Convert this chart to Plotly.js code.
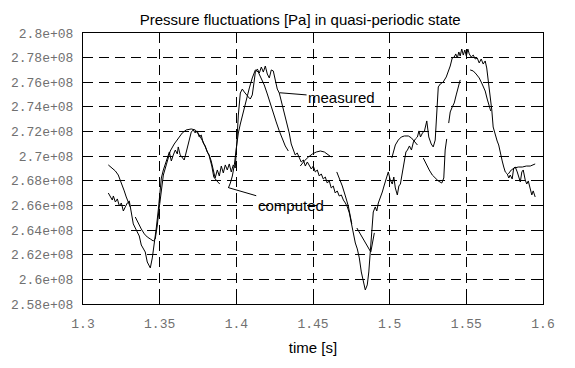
<!DOCTYPE html>
<html>
<head>
<meta charset="utf-8">
<script src="https://cdn.plot.ly/plotly-3.0.1.min.js"></script>
<style>html,body{margin:0;padding:0;background:#fff;}#chart{width:575px;height:368px;}</style>
</head>
<body>
<div id="chart"></div>
<script>
// measured pressure (noisy trace)
const timeMeasured = [
1.3165,1.3178,1.3191,1.3198,1.3211,1.3224,1.3237,1.3250,1.3263,1.3276,
1.3289,1.3302,1.3315,1.3328,1.3341,1.3354,1.3367,1.3380,1.3393,1.3406,
1.3419,1.3432,1.3439,1.3452,1.3465,1.3478,1.3491,1.3504,1.3511,1.3524,
1.3537,1.3550,1.3563,1.3576,1.3589,1.3602,1.3615,1.3621,1.3634,1.3647,
1.3660,1.3667,1.3680,1.3693,1.3706,1.3719,1.3732,1.3745,1.3758,1.3771,
1.3784,1.3797,1.3810,1.3823,1.3836,1.3849,1.3862,1.3876,1.3889,1.3902,
1.3915,1.3928,1.3941,1.3954,1.3967,1.3980,1.3993,1.4003,1.4013,1.4026,
1.4039,1.4052,1.4065,1.4078,1.4091,1.4104,1.4114,1.4124,1.4137,1.4150,
1.4163,1.4176,1.4189,1.4202,1.4215,1.4228,1.4241,1.4254,1.4267,1.4280,
1.4293,1.4306,1.4319,1.4332,1.4345,1.4358,1.4371,1.4384,1.4397,1.4410,
1.4423,1.4437,1.4450,1.4463,1.4476,1.4489,1.4502,1.4515,1.4528,1.4541,
1.4554,1.4567,1.4580,1.4593,1.4606,1.4619,1.4632,1.4645,1.4658,1.4671,
1.4685,1.4698,1.4711,1.4724,1.4737,1.4750,1.4763,1.4776,1.4789,1.4802,
1.4815,1.4828,1.4841,1.4854,1.4864,1.4874,1.4883,1.4893,1.4906,1.4916,
1.4926,1.4939,1.4952,1.4965,1.4978,1.4991,1.5004,1.5017,1.5027,1.5037,
1.5050,1.5060,1.5070,1.5083,1.5096,1.5106,1.5116,1.5129,1.5142,1.5155,
1.5168,1.5181,1.5191,1.5201,1.5214,1.5227,1.5242,1.5255,1.5271,1.5284,
1.5297,1.5307,1.5317,1.5330,1.5349,1.5369,1.5382,1.5395,1.5408,1.5421,
1.5431,1.5441,1.5451,1.5460,1.5470,1.5480,1.5490,1.5500,1.5510,1.5519,
1.5532,1.5545,1.5558,1.5571,1.5584,1.5597,1.5610,1.5623,1.5633,1.5643,
1.5656,1.5666,1.5675,1.5688,1.5701,1.5711,1.5721,1.5734,1.5744,1.5754,
1.5767,1.5777,1.5786,1.5799,1.5809,1.5819,1.5832,1.5842,1.5852,1.5862,
1.5871,1.5884,1.5894,1.5904,1.5917,1.5927,1.5936,1.5949];
const pressureMeasured = [
2.6701e8,2.6669e8,2.6644e8,2.6677e8,2.6628e8,2.6653e8,2.6596e8,2.6620e8,2.6555e8,2.6588e8,
2.6620e8,2.6636e8,2.6531e8,2.6450e8,2.6417e8,2.6385e8,2.6352e8,2.6279e8,2.6247e8,2.6222e8,
2.6141e8,2.6109e8,2.6093e8,2.6174e8,2.6287e8,2.6417e8,2.6563e8,2.6709e8,2.6823e8,2.6888e8,
2.6945e8,2.6985e8,2.7034e8,2.6961e8,2.7010e8,2.7050e8,2.7018e8,2.7075e8,2.7010e8,2.6993e8,
2.6969e8,2.7002e8,2.7058e8,2.7131e8,2.7196e8,2.7213e8,2.7188e8,2.7205e8,2.7156e8,2.7172e8,
2.7107e8,2.7083e8,2.7034e8,2.7010e8,2.6961e8,2.6888e8,2.6823e8,2.6888e8,2.6839e8,2.6920e8,
2.6864e8,2.6929e8,2.6888e8,2.6937e8,2.6872e8,2.6929e8,2.6904e8,2.7107e8,2.7334e8,2.7513e8,
2.7545e8,2.7521e8,2.7505e8,2.7481e8,2.7464e8,2.7497e8,2.7586e8,2.7683e8,2.7708e8,2.7675e8,
2.7724e8,2.7683e8,2.7732e8,2.7667e8,2.7635e8,2.7700e8,2.7692e8,2.7619e8,2.7545e8,2.7513e8,
2.7448e8,2.7399e8,2.7326e8,2.7261e8,2.7188e8,2.7099e8,2.7058e8,2.7010e8,2.7026e8,2.6985e8,
2.6953e8,2.6969e8,2.6920e8,2.6953e8,2.6929e8,2.6896e8,2.6920e8,2.6872e8,2.6888e8,2.6839e8,
2.6856e8,2.6815e8,2.6831e8,2.6782e8,2.6799e8,2.6742e8,2.6758e8,2.6701e8,2.6718e8,2.6677e8,
2.6685e8,2.6644e8,2.6620e8,2.6588e8,2.6539e8,2.6450e8,2.6352e8,2.6295e8,2.6247e8,2.6174e8,
2.6060e8,2.5971e8,2.5914e8,2.5955e8,2.6060e8,2.6231e8,2.6417e8,2.6547e8,2.6588e8,2.6555e8,
2.6620e8,2.6661e8,2.6709e8,2.6766e8,2.6831e8,2.6872e8,2.6807e8,2.6774e8,2.6831e8,2.6742e8,
2.6685e8,2.6758e8,2.6774e8,2.6872e8,2.6945e8,2.7034e8,2.7050e8,2.7083e8,2.7050e8,2.7115e8,
2.7140e8,2.7156e8,2.7205e8,2.7156e8,2.7188e8,2.7205e8,2.7286e8,2.7156e8,2.7099e8,2.7075e8,
2.7131e8,2.7399e8,2.7562e8,2.7586e8,2.7602e8,2.7643e8,2.7683e8,2.7732e8,2.7797e8,2.7805e8,
2.7830e8,2.7797e8,2.7846e8,2.7813e8,2.7870e8,2.7821e8,2.7862e8,2.7813e8,2.7870e8,2.7830e8,
2.7805e8,2.7821e8,2.7789e8,2.7797e8,2.7757e8,2.7789e8,2.7748e8,2.7773e8,2.7716e8,2.7619e8,
2.7505e8,2.7375e8,2.7237e8,2.7172e8,2.7123e8,2.7091e8,2.7026e8,2.6961e8,2.6912e8,2.6872e8,
2.6856e8,2.6823e8,2.6847e8,2.6815e8,2.6904e8,2.6912e8,2.6872e8,2.6831e8,2.6791e8,2.6872e8,
2.6888e8,2.6807e8,2.6774e8,2.6799e8,2.6742e8,2.6685e8,2.6718e8,2.6669e8];

// computed pressure (smooth trace, drawn in separate pieces)
const timeComputed = [
1.3165,1.3191,1.3211,1.3230,1.3243,1.3256,1.3269,1.3282,1.3295,1.3308,null,
1.3341,1.3361,1.3380,1.3400,1.3419,1.3439,1.3458,1.3471,1.3484,1.3497,
1.3511,1.3524,1.3543,1.3569,1.3595,1.3621,1.3647,1.3673,1.3706,1.3732,
1.3758,1.3784,1.3804,1.3823,1.3840,1.3853,1.3873,1.3892,null,
1.3948,1.3961,1.3974,1.3987,1.4000,1.4013,1.4026,1.4046,1.4065,1.4085,
1.4104,1.4124,1.4143,1.4163,1.4182,1.4202,1.4221,1.4241,1.4260,1.4280,
1.4300,1.4319,1.4339,null,
1.4417,1.4443,1.4470,1.4496,1.4522,1.4548,1.4574,1.4600,1.4619,null,
1.4655,1.4672,1.4691,1.4711,1.4730,1.4743,1.4753,null,
1.4786,1.4808,1.4834,1.4861,1.4877,1.4900,null,
1.5014,1.5024,1.5037,1.5056,1.5076,1.5096,1.5122,1.5142,1.5161,1.5181,null,
1.5219,1.5239,1.5258,1.5278,1.5297,1.5317,1.5340,1.5353,1.5362,1.5372,null,
1.5385,1.5395,1.5408,1.5421,1.5434,1.5447,1.5460,null,
1.5525,1.5545,1.5564,1.5584,1.5603,1.5623,1.5636,1.5649,1.5659,null,
1.5774,1.5793,1.5813,1.5839,1.5865,1.5891,1.5917,1.5949];
const pressureComputed = [
2.6929e8,2.6904e8,2.6880e8,2.6847e8,2.6807e8,2.6766e8,2.6718e8,2.6669e8,2.6628e8,2.6588e8,null,
2.6506e8,2.6450e8,2.6409e8,2.6369e8,2.6344e8,2.6328e8,2.6312e8,2.6328e8,2.6433e8,2.6580e8,
2.6742e8,2.6847e8,2.6929e8,2.7042e8,2.7099e8,2.7148e8,2.7188e8,2.7213e8,2.7221e8,2.7213e8,
2.7172e8,2.7115e8,2.7058e8,2.7002e8,2.6920e8,2.6831e8,2.6799e8,2.6774e8,null,
2.6742e8,2.6782e8,2.6839e8,2.6929e8,2.7067e8,2.7188e8,2.7261e8,2.7367e8,2.7464e8,2.7554e8,
2.7635e8,2.7700e8,2.7683e8,2.7635e8,2.7578e8,2.7505e8,2.7424e8,2.7343e8,2.7278e8,2.7205e8,
2.7140e8,2.7083e8,2.7042e8,null,
2.6920e8,2.6961e8,2.6993e8,2.7018e8,2.7034e8,2.7042e8,2.7034e8,2.7010e8,2.6993e8,null,
2.6872e8,2.6823e8,2.6758e8,2.6677e8,2.6596e8,2.6515e8,2.6450e8,null,
2.6417e8,2.6369e8,2.6312e8,2.6255e8,2.6222e8,2.6377e8,null,
2.6985e8,2.7042e8,2.7091e8,2.7131e8,2.7156e8,2.7164e8,2.7164e8,2.7148e8,2.7123e8,2.7091e8,null,
2.6985e8,2.6929e8,2.6888e8,2.6847e8,2.6823e8,2.6799e8,2.6782e8,2.6823e8,2.7050e8,2.7140e8,null,
2.7269e8,2.7359e8,2.7399e8,2.7432e8,2.7497e8,2.7562e8,2.7619e8,null,
2.7700e8,2.7692e8,2.7667e8,2.7635e8,2.7586e8,2.7529e8,2.7464e8,2.7399e8,2.7367e8,null,
2.6856e8,2.6888e8,2.6904e8,2.6912e8,2.6912e8,2.6920e8,2.6920e8,2.6937e8];

const xTickVals = [1.3,1.35,1.4,1.45,1.5,1.55,1.6];
const xTickLabels = ['1.3','1.35','1.4','1.45','1.5','1.55','1.6'];
const yTickVals = [2.58e8,2.60e8,2.62e8,2.64e8,2.66e8,2.68e8,2.70e8,2.72e8,2.74e8,2.76e8,2.78e8,2.80e8];
const yTickLabels = ['2.58e+08','2.6e+08','2.62e+08','2.64e+08','2.66e+08','2.68e+08','2.7e+08','2.72e+08','2.74e+08','2.76e+08','2.78e+08','2.8e+08'];

const sans = 'Liberation Sans, Arial, Helvetica, sans-serif';
const mono = 'Liberation Mono, Courier New, monospace';

const traces = [
  {x: timeMeasured, y: pressureMeasured, type: 'scatter', mode: 'lines', name: 'measured',
   line: {color: '#000', width: 1}, hoverinfo: 'skip'},
  {x: timeComputed, y: pressureComputed, type: 'scatter', mode: 'lines', name: 'computed',
   connectgaps: false, line: {color: '#000', width: 1}, hoverinfo: 'skip'}
];

const axisCommon = {
  ticks: 'inside', ticklen: 7, tickcolor: '#000', tickwidth: 1,
  showline: true, linecolor: '#000', linewidth: 1, mirror: 'ticks',
  showgrid: true, gridcolor: '#000', gridwidth: 1, griddash: '10px,6px',
  zeroline: false, tickfont: {family: mono, size: 13, color: '#707070'}
};

const layout = {
  width: 575, height: 368,
  margin: {l: 83, r: 32, t: 33, b: 64},
  paper_bgcolor: '#fff', plot_bgcolor: '#fff',
  showlegend: false,
  title: {text: 'Pressure fluctuations [Pa] in quasi-periodic state',
          font: {family: sans, size: 15, color: '#000'},
          x: 0.522, xref: 'container', xanchor: 'center',
          y: 1 - 20/368, yref: 'container', yanchor: 'middle'},
  xaxis: Object.assign({}, axisCommon, {
    range: [1.3, 1.6], tickmode: 'array', tickvals: xTickVals, ticktext: xTickLabels,
    ticklabelstandoff: 7,
    title: {text: 'time [s]', font: {family: sans, size: 15, color: '#000'}, standoff: 11}
  }),
  yaxis: Object.assign({}, axisCommon, {
    range: [2.58e8, 2.8e8], tickmode: 'array', tickvals: yTickVals, ticktext: yTickLabels,
    ticklabelstandoff: 6
  }),
  annotations: [
    {x: 1.4282, y: 2.7515e8, xref: 'x', yref: 'y', text: 'measured', showarrow: true,
     arrowhead: 0, arrowwidth: 1, arrowcolor: '#000', ax: 62, ay: 5,
     font: {family: sans, size: 15, color: '#000'}},
    {x: 1.3950, y: 2.6744e8, xref: 'x', yref: 'y', text: 'computed', showarrow: true,
     arrowhead: 0, arrowwidth: 1, arrowcolor: '#000', ax: 62, ay: 18,
     font: {family: sans, size: 15, color: '#000'}}
  ]
};

Plotly.newPlot('chart', traces, layout, {displayModeBar: false, staticPlot: true});
</script>
</body>
</html>
